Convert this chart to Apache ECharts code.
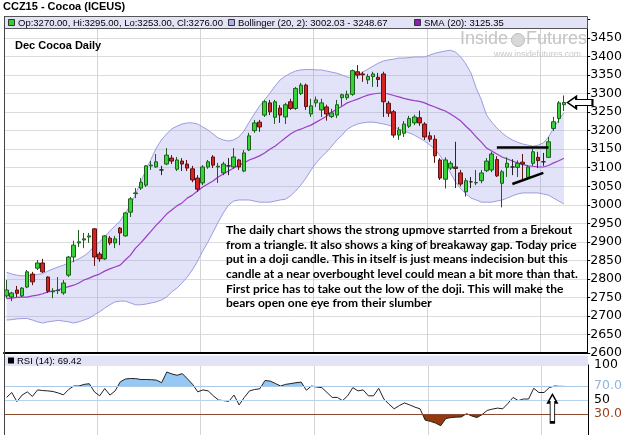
<!DOCTYPE html>
<html><head><meta charset="utf-8">
<script src="https://cdn.jsdelivr.net/npm/echarts@6/dist/echarts.min.js"></script>
<style>html,body{margin:0;padding:0;background:#fff}#c{width:625px;height:435px}</style>
</head><body><div id="c"></div>
<script>
// ---- data (Dec cocoa daily, 109 sessions) ----
const opens = [2754,2751,2770,2754,2778,2813,2829,2843,2805,2765,
2768,2762,2810,2859,2897,2905,2913,2935,2867,2854,
2910,2897,2937,2916,2980,3030,3045,3053,3105,3102,
3094,3110,3126,3096,3118,3110,3097,3072,3059,3102,
3129,3102,3086,3105,3102,3121,3091,3148,3200,3223,
3242,3275,3236,3261,3237,3278,3260,3300,3323,3245,
3275,3256,3264,3238,3242,3289,3289,3298,3359,3353,
3337,3346,3344,3353,3274,3251,3188,3193,3212,3221,
3235,3218,3186,3177,3121,3069,3099,3102,3086,3035,
3062,3059,3065,3092,3094,3122,3058,3101,3102,3101,
3115,3074,3112,3128,3116,3128,3206,3233,3270];
const closes = [2770,2762,2761,2775,2819,2792,2843,2819,2767,2767,
2770,2789,2859,2891,2900,2908,2916,2859,2854,2916,
2897,2908,2924,2978,3016,3032,3061,3105,3107,3116,
3094,3134,3118,3121,3110,3099,3067,3042,3102,3116,
3107,3104,3110,3105,3129,3102,3140,3186,3221,3210,
3278,3251,3278,3242,3270,3260,3314,3323,3265,3267,
3283,3275,3245,3248,3270,3297,3298,3362,3350,3351,
3346,3353,3338,3278,3247,3188,3202,3218,3233,3237,
3221,3183,3177,3132,3072,3121,3112,3098,3056,3065,
3062,3060,3086,3118,3137,3078,3089,3112,3102,3112,
3110,3102,3143,3119,3116,3170,3224,3275,3276];
const lows = [2748,2740,2751,2751,2775,2783,2824,2816,2762,2748,
2759,2757,2805,2845,2886,2883,2897,2835,2846,2851,
2891,2883,2891,2914,2967,3018,3040,3048,3094,3100,
3080,3107,3110,3091,3091,3091,3061,3035,3053,3097,
3099,3059,3080,3080,3097,3094,3088,3145,3194,3197,
3237,3242,3218,3221,3218,3256,3256,3296,3256,3237,
3264,3237,3227,3234,3234,3267,3283,3294,3340,3332,
3326,3318,3318,3237,3237,3181,3175,3183,3207,3215,
3213,3175,3170,3113,3067,3044,3094,3045,3050,3022,
3045,3053,3058,3088,3088,3075,2993,3075,3080,3075,
3067,3067,3105,3099,3105,3126,3199,3221,3253];
const highs = [2797,2765,2781,2778,2824,2819,2851,2854,2807,2775,
2805,2797,2862,2903,2932,2924,2924,2937,2873,2918,
2916,2916,2940,2980,3021,3045,3072,3107,3118,3137,
3105,3153,3134,3129,3126,3121,3105,3080,3107,3121,
3134,3113,3116,3126,3153,3124,3148,3194,3229,3229,
3283,3283,3283,3269,3275,3286,3318,3329,3327,3286,
3292,3286,3270,3259,3283,3300,3308,3365,3377,3359,
3353,3359,3356,3359,3280,3256,3210,3226,3240,3243,
3254,3223,3197,3188,3126,3128,3118,3170,3094,3072,
3075,3094,3094,3126,3143,3131,3094,3128,3123,3120,
3137,3107,3151,3143,3140,3183,3237,3280,3295];
const bbUpper = [2818,2813,2810,2808,2809,2810,2812,2814,2821,2827,
2832,2837,2843,2848,2854,2862,2873,2889,2900,2913,
2929,2943,2956,2978,2999,3029,3061,3094,3123,3153,
3175,3191,3205,3212,3218,3221,3221,3218,3210,3202,
3191,3180,3175,3172,3175,3183,3199,3223,3245,3266,
3283,3301,3320,3337,3347,3355,3361,3364,3365,3365,
3364,3364,3361,3358,3355,3350,3345,3342,3350,3358,
3366,3374,3382,3388,3391,3393,3396,3396,3397,3399,
3399,3399,3404,3409,3412,3415,3417,3412,3399,3380,
3355,3315,3283,3242,3223,3207,3194,3183,3175,3169,
3164,3161,3158,3161,3167,3183,3207,3229,3248.67];
const bbLower = [2689,2690,2692,2693,2693,2689,2684,2681,2684,2686,
2688,2686,2684,2681,2684,2689,2694,2703,2711,2721,
2730,2738,2740,2740,2735,2730,2730,2732,2735,2738,
2743,2751,2765,2775,2789,2805,2824,2848,2875,2899,
2926,2953,2978,2999,3010,3013,3013,3013,3010,3007,
3007,3007,3010,3013,3015,3024,3037,3053,3072,3094,
3113,3129,3142,3158,3175,3188,3204,3212,3218,3221,
3223,3223,3221,3218,3215,3210,3204,3199,3194,3188,
3180,3172,3161,3150,3132,3113,3086,3061,3043,3029,
3018,3013,3007,3007,3007,3010,3013,3018,3024,3029,
3032,3032,3032,3032,3029,3026,3018,3010,3002.03];
const sma20 = [2747,2748,2750,2751,2751,2754,2756,2760,2765,2767,
2770,2775,2779,2783,2789,2797,2802,2808,2813,2821,
2827,2832,2837,2851,2864,2883,2897,2913,2929,2945,
2959,2975,2986,2997,3005,3018,3026,3037,3048,3056,
3064,3075,3083,3091,3099,3107,3113,3121,3126,3132,
3140,3150,3158,3169,3180,3191,3199,3204,3210,3215,
3223,3231,3239,3250,3258,3266,3275,3280,3285,3291,
3296,3299,3301,3301,3299,3295,3291,3287,3284,3281,
3279,3275,3269,3264,3258,3253,3245,3236,3226,3212,
3199,3183,3169,3153,3145,3137,3129,3124,3118,3113,
3109,3105,3104,3102,3102,3106,3113,3119,3125.35];
const rsi14 = [53.7,60.7,47.7,57,61.6,55.1,64.4,63.5,63,62.1,
60,57.4,65,70,70,72.3,73.3,61.6,56,66.3,
57,63,76,80,80.7,80.5,79.3,79.3,79,78.4,
74.7,90,87.2,85.3,87.7,80.2,72.3,61.6,64.4,63,
56,50,49.1,48.1,57,43,53.7,63,65,66,
77.9,77,73.7,70,72.3,73.5,74.7,75.6,64,70,
68.5,67.7,60.7,53.7,53.7,49.1,56,67.7,63,64.4,
56,56,66.7,51.4,44,37.4,42.1,45.8,43,39.8,
37.4,21.2,19.5,17,13.3,23.5,24.9,25.5,25.8,30.5,
27.2,24.9,29.1,35.1,37,38.4,37.4,45,53.7,49.1,
51.4,51.4,66.7,60.7,60.7,67.7,70,69.5,69.42];
const monthStartIdx = [18, 38, 60, 82, 104];
const priceTickStep = 50;
const rsiLevels = [70, 50, 30];
const noteLines = [
 'The daily chart shows the strong upmove starrted from a \u0183rekout',
 'from a triangle. It also shows a king of breakaway gap. Today price',
 'put in a doji candle. This in itself is just means indecision but this',
 'candle at a near overbought level could mean a bit more than that.',
 'First price has to take out the low of the doji. This will make the',
 'bears open one eye from their slumber'];
// ---------------------------------------------------------------
const nSessions = opens.length;
const emptySlots = 4;
const categories = [];
for (let i = 0; i < nSessions + emptySlots; i++) categories.push(i < nSessions ? 'D' + (i + 1) : '');
const candles = opens.map((o, i) => [o, closes[i], lows[i], highs[i]]);
const bandWidth = bbUpper.map((u, i) => +(u - bbLower[i]).toFixed(2));
const last = nSessions - 1;

const chart = echarts.init(document.getElementById('c'), null, {renderer: 'canvas', width: 625, height: 435});

function runs(pts, yT, above) {
  const inside = p => above ? p[1] < yT : p[1] > yT;
  const polys = []; let cur = null;
  for (let i = 0; i < pts.length; i++) {
    const p = pts[i];
    if (i > 0) {
      const q = pts[i - 1];
      if (inside(p) !== inside(q)) {
        const t = (yT - q[1]) / (p[1] - q[1]);
        const cx = q[0] + t * (p[0] - q[0]);
        if (cur) { cur.push([cx, yT]); polys.push(cur); cur = null; }
        else cur = [[cx, yT]];
      }
    }
    if (inside(p)) { if (!cur) cur = [[p[0], yT]]; cur.push(p); }
  }
  if (cur) { cur.push([pts[pts.length - 1][0], yT]); polys.push(cur); }
  return polys;
}
function rsiFill(level, above, color) {
  return {
    type: 'custom', xAxisIndex: 1, yAxisIndex: 1, silent: true, z: 1,
    data: [[0, level]],
    renderItem(params, api) {
      const pts = rsi14.map((v, i) => api.coord([i, v]));
      const yT = api.coord([0, level])[1];
      return {type: 'group', children: runs(pts, yT, above).map(pl => ({
        type: 'polygon', shape: {points: pl}, style: {fill: color}}))};
    }
  };
}

const FONT = 'Liberation Sans, Arial, sans-serif';
const AXF = 'DejaVu Sans, Verdana, sans-serif';
const splitX = {show: true, interval: (i) => monthStartIdx.includes(i), lineStyle: {color: '#d4d4d4', width: 1}};
function txt(id, x, y, text, font, fill, z) {
  return {type: 'text', id: id, x: x, y: y, z: z || 100, style: {text: text, font: font, fill: fill || '#000', verticalAlign: 'top', align: 'left'}};
}

const option = {
  animation: false,
  backgroundColor: '#fff',
  title: {text: 'Dec Cocoa Daily', left: 13, top: 38, padding: 2, z: 100,
          textStyle: {fontSize: 11, fontWeight: 'bold', fontFamily: FONT, color: '#000'}},
  grid: [
    {left: 4, right: 37, top: 19.5, height: 333.5},
    {left: 4, right: 37, top: 365, height: 73}
  ],
  xAxis: [
    {type: 'category', gridIndex: 0, data: categories, boundaryGap: true,
     axisLine: {show: true, onZero: false, lineStyle: {color: '#000', width: 2}},
     axisTick: {show: false}, axisLabel: {show: false}, splitLine: splitX},
    {type: 'category', gridIndex: 1, data: categories, boundaryGap: true,
     axisLine: {show: false}, axisTick: {show: false}, axisLabel: {show: false}, splitLine: splitX}
  ],
  yAxis: [
    {type: 'value', gridIndex: 0, position: 'right', min: 2600, max: 3500, interval: priceTickStep,
     axisLine: {show: true, lineStyle: {color: '#000'}},
     axisTick: {show: true, inside: false, length: 3, lineStyle: {color: '#000'}},
     axisLabel: {color: '#000', fontSize: 12.5, fontFamily: AXF, margin: 3, formatter: v => v >= 3500 ? '' : String(v)},
     splitLine: {show: true, lineStyle: {color: '#dcdcdc'}}},
    {type: 'value', gridIndex: 1, position: 'right', min: 0, max: 100, interval: 10,
     axisLine: {show: true, lineStyle: {color: '#000'}},
     axisTick: {show: false},
     axisLabel: {fontSize: 12.5, fontFamily: AXF, margin: 6,
       formatter: v => v === 100 ? '{k|100}' : v === 70 ? '{b|70.0}' : v === 50 ? '{k|50}' : v === 30 ? '{r|30.0}' : '',
       rich: {k: {color: '#000', fontSize: 12.5, fontFamily: AXF}, b: {color: '#8fb6dc', fontSize: 12.5, fontFamily: AXF}, r: {color: '#a0401a', fontSize: 12.5, fontFamily: AXF}}},
     splitLine: {show: false}}
  ],
  series: [
    {name: 'bbBase', type: 'line', data: bbLower, stack: 'bb', symbol: 'none', silent: true, z: 1,
     lineStyle: {color: '#9c9ce0', width: 1}},
    {name: 'bbBand', type: 'line', data: bandWidth, stack: 'bb', symbol: 'none', silent: true, z: 1,
     lineStyle: {color: '#9c9ce0', width: 1}, areaStyle: {color: 'rgba(150,150,235,0.40)'}},
    {name: 'SMA', type: 'line', data: sma20, symbol: 'none', silent: true, z: 2,
     lineStyle: {color: '#9b3fc4', width: 1.2}},
    {name: 'price', type: 'candlestick', data: candles, barWidth: 4, z: 3,
     itemStyle: {color: '#36d436', color0: '#d42424', borderColor: '#1d5e1d', borderColor0: '#5c1212', borderColorDoji: '#222', borderWidth: 1},
     markLine: {silent: true, symbol: 'none', animation: false,
       data: [
         [{coord: [categories[95], 3155]}, {coord: [categories[105], 3155]}],
         [{coord: [categories[98], 3056]}, {coord: [categories[104], 3086]}],
         {yAxis: closes[last], lineStyle: {opacity: 0},
          label: {show: true, position: 'end', distance: 6, formatter: String(closes[last]), color: '#000', fontSize: 11, fontWeight: 'bold', fontFamily: FONT,
                  backgroundColor: '#fff', borderColor: '#000', borderWidth: 1, padding: [0, 1]}}
       ],
       lineStyle: {color: '#000', width: 2.5, type: 'solid'}, label: {show: false}},
     markPoint: {silent: true, animation: false, label: {show: false},
       data: [{coord: [categories[last], closes[last]], symbol: 'path://M0,6L9,0L9,3L26,3L26,9L9,9L9,12Z',
               symbolSize: [25, 12], symbolOffset: [16, 0], itemStyle: {color: '#fff', borderColor: '#000', borderWidth: 1.5}}]}},
    rsiFill(70, true, '#95c8f2'),
    rsiFill(30, false, '#93380f'),
    {name: 'RSI', type: 'line', xAxisIndex: 1, yAxisIndex: 1, data: rsi14, symbol: 'none', z: 3,
     lineStyle: {color: '#222', width: 1},
     markLine: {silent: true, symbol: 'none', animation: false, label: {show: false},
       data: [{yAxis: rsiLevels[0], lineStyle: {color: '#a9cbe9', width: 1, type: 'solid'}},
              {yAxis: rsiLevels[1], lineStyle: {color: '#b9d3ea', width: 1, type: 'solid'}},
              {yAxis: rsiLevels[2], lineStyle: {color: '#8b4a2a', width: 1, type: 'solid'}}]},
     markPoint: {silent: true, animation: false, label: {show: false},
       data: [{coord: [categories[106], 38], symbol: 'path://M4,0L8,8L6,8L6,28L2,28L2,8L0,8Z',
               symbolSize: [9, 28], symbolOffset: [-2, 0], itemStyle: {color: '#fff', borderColor: '#000', borderWidth: 1.5}}]}}
  ],
  graphic: [
    txt('ttl', 3, 1, 'CCZ15 - Cocoa (ICEUS)', 'bold 11px ' + FONT),
    {type: 'rect', id: 'strip', z: 90, shape: {x: 4.5, y: 16.5, width: 583, height: 12}, style: {fill: '#e3e3f7', stroke: '#555', lineWidth: 1}},
    {type: 'rect', id: 'ic1', z: 100, shape: {x: 8.5, y: 19.5, width: 6, height: 6}, style: {fill: '#2ed12e', stroke: '#333', lineWidth: 1}},
    txt('lg1', 18, 18, 'Op:3270.00, Hi:3295.00, Lo:3253.00, Cl:3276.00', '9.5px ' + FONT),
    {type: 'rect', id: 'ic2', z: 100, shape: {x: 228.5, y: 19.5, width: 6, height: 6}, style: {fill: '#aeaeea', stroke: '#333', lineWidth: 1}},
    txt('lg2', 238, 18, 'Bollinger (20, 2): 3002.03 - 3248.67', '9.5px ' + FONT),
    {type: 'rect', id: 'ic3', z: 100, shape: {x: 414.5, y: 19.5, width: 6, height: 6}, style: {fill: '#8a1fb0', stroke: '#333', lineWidth: 1}},
    txt('lg3', 424, 18, 'SMA (20): 3125.35', '9.5px ' + FONT),
    {type: 'line', id: 'lborder', z: 100, shape: {x1: 4.5, y1: 16, x2: 4.5, y2: 435}, style: {stroke: '#444', lineWidth: 1}},
    txt('wm1', 460, 30, 'Inside', '18px ' + FONT, '#c4c4c4', 50),
    {type: 'circle', id: 'wmg', z: 50, shape: {cx: 518, cy: 40, r: 6.5}, style: {fill: '#d8d8d8', stroke: '#bdbdbd'}},
    txt('wm2', 526, 30, 'Futures', '18px ' + FONT, '#c4c4c4', 50),
    txt('wm3', 494, 50, 'www.insidefutures.com', '8.5px ' + FONT, '#c8c8c8', 50),
    {type: 'text', id: 'note', x: 226, y: 223, z: 100, style: {text: noteLines.join('\n'), fill: '#000', font: 'bold 12px Lato, sans-serif', lineHeight: 14.6, verticalAlign: 'top', align: 'left'}},
    {type: 'rect', id: 'rstrip', z: 90, shape: {x: 5, y: 355.5, width: 583, height: 10.5}, style: {fill: '#e3e3f7'}},
    {type: 'rect', id: 'ric', z: 100, shape: {x: 8, y: 357.5, width: 6, height: 6}, style: {fill: '#000'}},
    txt('rlg', 17, 356, 'RSI (14): 69.42', '9.5px ' + FONT)
  ]
};
chart.setOption(option);
</script></body></html>
